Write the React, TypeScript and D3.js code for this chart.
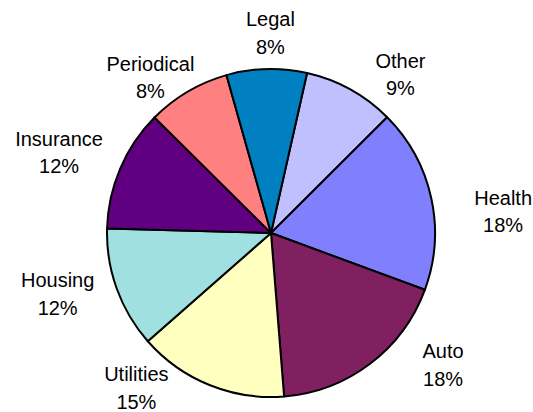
import React from "react";
import * as d3 from "d3";

const width = 533;
const height = 412;
const center = { x: 271, y: 233 };
const radius = 164;

// clockwise from the slice that sits just right of 12 o'clock
const categories = ["Other", "Health", "Auto", "Utilities", "Housing", "Insurance", "Periodical", "Legal"];
const shares = [9.0, 18.1, 18.1, 14.8, 11.9, 12.0, 8.2, 7.9];
const percentLabels = ["9%", "18%", "18%", "15%", "12%", "12%", "8%", "8%"];
const colors = ["#C0C0FF", "#8080FF", "#802060", "#FFFFC0", "#A0E0E0", "#600080", "#FF8080", "#0080C0"];

// label placement: centroid of an outer arc, then nudged like Excel's best fit
const labelRadius = 212;
const labelNudge: Record<string, [number, number]> = {
  Other: [27, 27],
  Health: [25, 24],
  Auto: [44, -37],
  Utilities: [-55, -41.5],
  Housing: [-14, -11],
  Insurance: [-17, 3],
  Periodical: [-13, 27],
  Legal: [5, 12],
};

const startAngle = (12.7 * Math.PI) / 180;

export default function App() {
  const rows = categories.map((name, i) => ({
    name,
    value: shares[i],
    pct: percentLabels[i],
    color: colors[i],
  }));

  const pie = d3
    .pie<(typeof rows)[number]>()
    .value(d => d.value)
    .sort(null)
    .startAngle(startAngle)
    .endAngle(startAngle + 2 * Math.PI);

  const arcs = pie(rows);
  const arc = d3.arc<d3.PieArcDatum<(typeof rows)[number]>>().innerRadius(0).outerRadius(radius);
  const labelArc = d3
    .arc<d3.PieArcDatum<(typeof rows)[number]>>()
    .innerRadius(labelRadius)
    .outerRadius(labelRadius);

  return (
    <svg
      width={width}
      height={height}
      style={{ position: "absolute", left: 0, top: 0, background: "#fff" }}
      fontFamily="'Liberation Sans', Arial, sans-serif"
      fontSize={20}
    >
      <g transform={`translate(${center.x},${center.y})`}>
        {arcs.map(a => (
          <path
            key={a.data.name}
            d={arc(a) ?? ""}
            fill={a.data.color}
            stroke="#000"
            strokeWidth={2}
            strokeLinejoin="round"
          />
        ))}
        {arcs.map(a => {
          const [cx, cy] = labelArc.centroid(a);
          const [dx, dy] = labelNudge[a.data.name];
          const x = cx + dx;
          const y = cy + dy;
          return (
            <text key={a.data.name} textAnchor="middle" fill="#000">
              <tspan x={x} y={y - 6.7}>
                {a.data.name}
              </tspan>
              <tspan x={x} y={y + 20.6}>
                {a.data.pct}
              </tspan>
            </text>
          );
        })}
      </g>
    </svg>
  );
}
